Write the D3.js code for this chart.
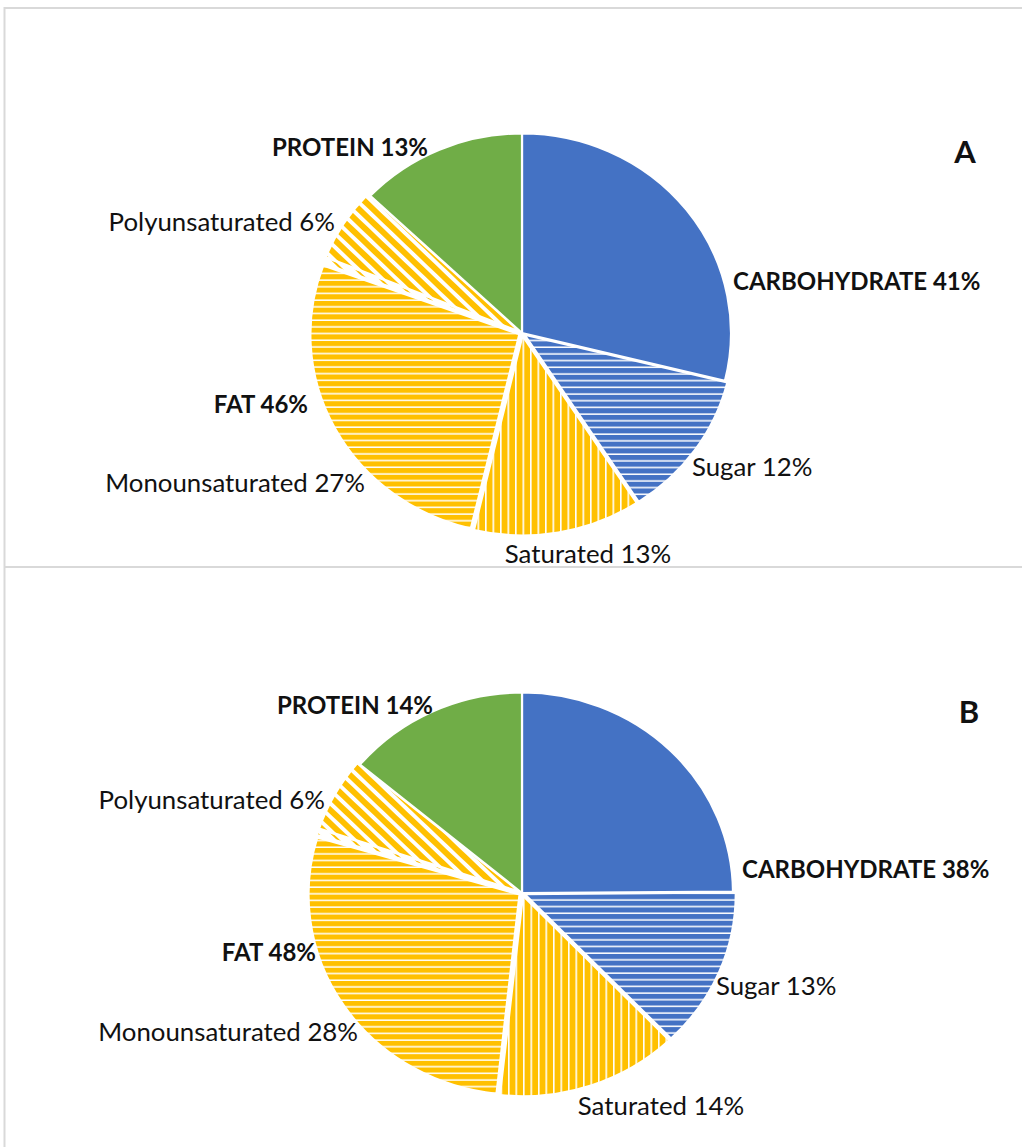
<!DOCTYPE html>
<html>
<head>
<meta charset="utf-8">
<script src="https://cdn.jsdelivr.net/npm/d3@7"></script>
<style>
  html, body { margin: 0; padding: 0; background: #fff; }
  svg { display: block; }
  text { font-family: Lato, "Open Sans", sans-serif; fill: #111; }
</style>
</head>
<body>
<svg id="chart" width="1022" height="1147"></svg>
<script>
// Energy share (% of total energy) for two diets, A and B
const panelNames   = ["A", "B"];
const carbohydrate = [41, 38];
const sugar        = [12, 13];
const protein      = [13, 14];
const fat          = [46, 48];
const saturated    = [13, 14];
const monounsat    = [27, 28];
const polyunsat    = [6, 6];
const otherFat     = [0.5, 0.5];   // unlabelled residual wedge between mono and poly

const COLORS = { blue: "#4472C4", yellow: "#FFC000", green: "#70AD47" };

const svg = d3.select("#chart");
const W = 1022, H = 1147;

// ---- hatch patterns -------------------------------------------------------
const defs = svg.append("defs");
function stripes(id, color, period, lineW, angle, bg) {
  const p = defs.append("pattern")
    .attr("id", id)
    .attr("patternUnits", "userSpaceOnUse")
    .attr("width", period).attr("height", period)
    .attr("patternTransform", `rotate(${angle})`);
  p.append("rect").attr("width", period).attr("height", period).attr("fill", bg || color);
  p.append("rect").attr("x", 0).attr("y", period - lineW)
    .attr("width", period).attr("height", lineW)
    .attr("fill", bg ? color : "#fff");
}
stripes("hBlue", COLORS.blue, 7, 1.6, 0);
stripes("hYellow", COLORS.yellow, 7, 1.6, 0);
stripes("vYellow", COLORS.yellow, 7.5, 1.6, 90);
stripes("dYellow", COLORS.yellow, 10, 4, 45);
stripes("dSliver", COLORS.yellow, 10, 2, 45, "#fff");

const fills = {
  carbOther: COLORS.blue,
  sugar: "url(#hBlue)",
  saturated: "url(#vYellow)",
  mono: "url(#hYellow)",
  otherFat: "url(#dSliver)",
  poly: "url(#dYellow)",
  protein: COLORS.green
};
// slices pulled slightly out from the centre
const explode = { carbOther: 0, sugar: 3, saturated: 3, mono: 3, otherFat: 3, poly: 3, protein: 0 };

// ---- panel frames ---------------------------------------------------------
const frameTop = [8, 567];
svg.append("path")
  .attr("d", `M${W + 2},${frameTop[0]} H4.5 V${H + 2} M4.5,${frameTop[1]} H${W + 2}`)
  .attr("fill", "none").attr("stroke", "#d9d9d9").attr("stroke-width", 2);

// ---- pie geometry per panel -----------------------------------------------
const pieLayout = [
  { cx: 522, cy: 333, r: 209, sy: 0.955 },
  { cx: 522, cy: 893, r: 211, sy: 0.95 }
];

// label placement: [key, x, y(centre), anchor, bold]
const labelLayout = [
  [
    ["protein", 428, 147, "end", true],
    ["poly", 335, 222, "end", false],
    ["fat", 308, 404, "end", true],
    ["mono", 365, 483, "end", false],
    ["saturated", 588, 554, "middle", false],
    ["sugar", 692, 467, "start", false],
    ["carb", 733, 281, "start", true]
  ],
  [
    ["protein", 433, 705, "end", true],
    ["poly", 325, 800, "end", false],
    ["fat", 316, 952, "end", true],
    ["mono", 358, 1032, "end", false],
    ["saturated", 661, 1106, "middle", false],
    ["sugar", 716, 986, "start", false],
    ["carb", 742, 869, "start", true]
  ]
];
const letterPos = [[965, 152], [969, 712]];

const pie = d3.pie().sort(null).value(d => d.value);

panelNames.forEach((name, i) => {
  const slices = [
    { key: "carbOther", value: carbohydrate[i] - sugar[i] },
    { key: "sugar", value: sugar[i] },
    { key: "saturated", value: saturated[i] },
    { key: "mono", value: monounsat[i] },
    { key: "otherFat", value: otherFat[i] },
    { key: "poly", value: polyunsat[i] },
    { key: "protein", value: protein[i] }
  ];
  const L = pieLayout[i];
  const arc = d3.arc().innerRadius(0).outerRadius(L.r);

  const g = svg.append("g")
    .attr("transform", `translate(${L.cx},${L.cy}) scale(1,${L.sy})`);

  g.selectAll("path.slice")
    .data(pie(slices))
    .join("path")
    .attr("class", "slice")
    .attr("d", arc)
    .attr("fill", d => fills[d.data.key])
    .attr("stroke", "#fff")
    .attr("stroke-width", 2.2)
    .attr("transform", d => {
      const a = (d.startAngle + d.endAngle) / 2;
      const e = explode[d.data.key];
      return `translate(${Math.sin(a) * e},${-Math.cos(a) * e})`;
    });

  const labelText = {
    protein: `PROTEIN ${protein[i]}%`,
    poly: `Polyunsaturated ${polyunsat[i]}%`,
    fat: `FAT ${fat[i]}%`,
    mono: `Monounsaturated ${monounsat[i]}%`,
    saturated: `Saturated ${saturated[i]}%`,
    sugar: `Sugar ${sugar[i]}%`,
    carb: `CARBOHYDRATE ${carbohydrate[i]}%`
  };

  svg.append("g").selectAll("text")
    .data(labelLayout[i])
    .join("text")
    .attr("x", d => d[1])
    .attr("y", d => d[2])
    .attr("dy", "0.36em")
    .attr("text-anchor", d => d[3])
    .attr("font-size", d => d[4] ? 24 : 25.8)
    .attr("font-weight", d => d[4] ? 700 : 400)
    .text(d => labelText[d[0]]);

  svg.append("text")
    .attr("x", letterPos[i][0])
    .attr("y", letterPos[i][1])
    .attr("dy", "0.36em")
    .attr("text-anchor", "middle")
    .attr("font-size", 31)
    .attr("font-weight", 700)
    .text(name);
});
</script>
</body>
</html>
